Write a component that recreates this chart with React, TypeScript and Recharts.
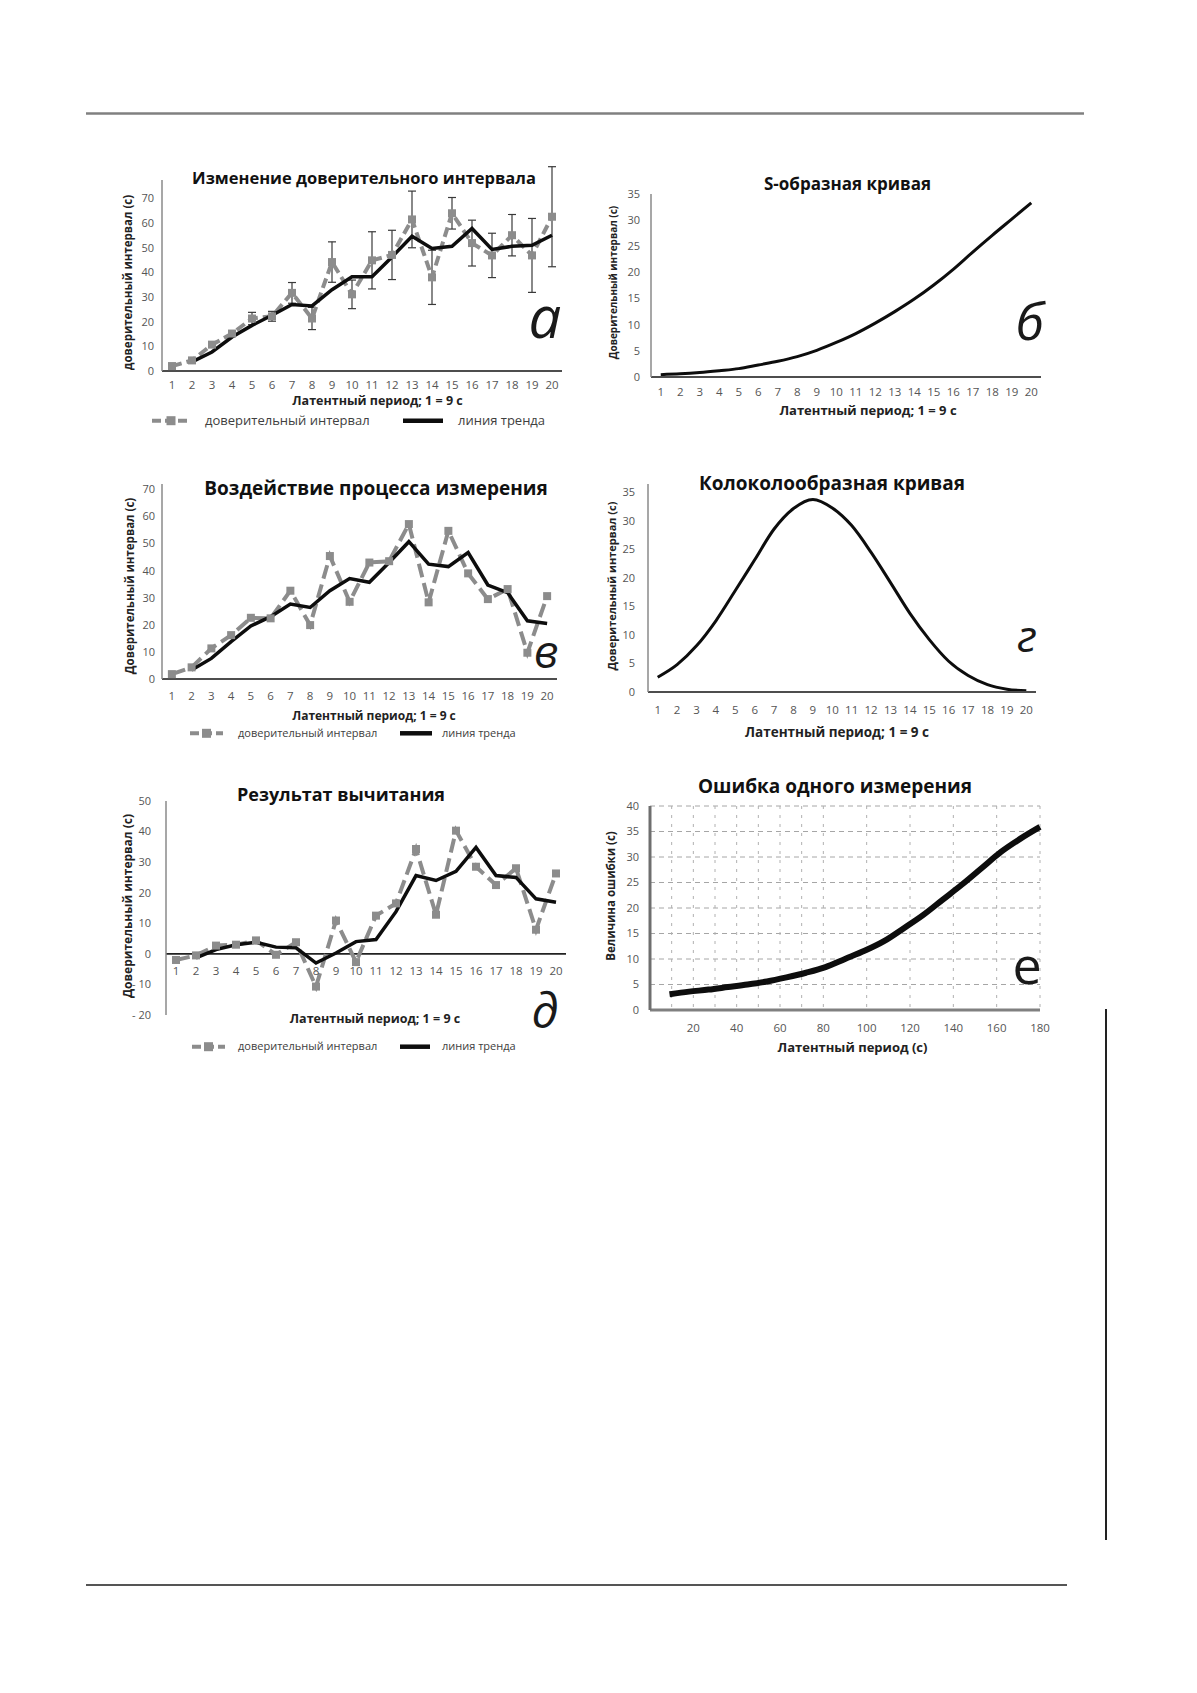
import React from "react";
import {
  LineChart, Line, XAxis, YAxis, CartesianGrid, ErrorBar, ReferenceLine, LabelList,
} from "recharts";

const FONT = '"Open Sans", "Noto Sans", sans-serif';
const GRAY = "#8c8c8c";
const BLACK = "#0d0d0d";

// periods on the category axis (1 = 9 s)
const periods = ["1", "2", "3", "4", "5", "6", "7", "8", "9", "10", "11", "12", "13", "14", "15", "16", "17", "18", "19", "20"];

// а – Изменение доверительного интервала
const ciA = [2, 4.3, 10.7, 15.2, 21.3, 22.2, 31.7, 21.3, 44.2, 31.1, 44.9, 47.1, 61.5, 38, 64, 51.9, 46.9, 55.1, 46.9, 62.6];
const errA = [0, 0, 0, 0, 2.5, 2, 4.2, 4.5, 8.2, 5.8, 11.6, 10, 11.5, 11, 6.4, 9.3, 9, 8.4, 15, 20.3];
const trendA = [null, 3.7, 7.7, 13.8, 18.5, 22.6, 27, 26.4, 33, 38.2, 38.2, 46.3, 54.7, 49.7, 50.6, 57.8, 49.3, 50.6, 51, 55.1];
const ticksA = [0, 10, 20, 30, 40, 50, 60, 70];

// б – S-образная кривая
const sCurve = [0.45, 0.6, 0.85, 1.2, 1.6, 2.3, 3.0, 3.9, 5.1, 6.6, 8.3, 10.3, 12.5, 14.9, 17.6, 20.6, 23.9, 27.1, 30.2, 33.3];
const ticksB = [0, 5, 10, 15, 20, 25, 30, 35];

// в – Воздействие процесса измерения
const ciV = [1.8, 4.3, 11.3, 16.2, 22.6, 22.4, 32.6, 19.9, 45.4, 28.5, 43, 43.5, 57.2, 28.3, 54.7, 39, 29.5, 33.2, 9.7, 30.6];
const trendV = [null, 3.3, 7.6, 13.8, 19.6, 23, 27.7, 26.4, 32.6, 37.1, 35.7, 43, 50.7, 42.4, 41.5, 46.7, 34.7, 31.9, 21.5, 20.5];

// г – Колоколообразная кривая
const bellCurve = [2.6, 4.8, 8.1, 12.5, 17.8, 23.2, 28.6, 32.2, 33.8, 32.3, 29.2, 24.5, 19.2, 13.8, 9.2, 5.4, 2.9, 1.3, 0.5, 0.2];

// д – Результат вычитания
const ciD = [-2, -0.5, 2.7, 3, 4.4, -0.3, 3.8, -10.7, 10.9, -2.7, 12.5, 16.5, 34.3, 12.8, 40.3, 28.5, 22.5, 28, 7.9, 26.3];
const trendD = [null, -1.3, 1.4, 3, 3.8, 2.2, 2, -3, 0.3, 4, 4.7, 13.8, 25.6, 24, 27, 34.8, 25.6, 25, 18, 16.9];
const ticksD = [-20, -10, 0, 10, 20, 30, 40, 50];

// е – Ошибка одного измерения
const latencySec = [9, 18, 27, 36, 45, 54, 63, 72, 81, 90, 99, 108, 117, 126, 135, 144, 153, 162, 171, 180];
const errorSize = [3.1, 3.6, 4.0, 4.5, 5.0, 5.6, 6.4, 7.3, 8.4, 10.0, 11.6, 13.5, 16.0, 18.6, 21.6, 24.6, 27.8, 31.0, 33.6, 35.9];
const ticksEx = [20, 40, 60, 80, 100, 120, 140, 160, 180];
const gridEx = [10, 20, 30, 40, 50, 60, 70, 80, 90, 100, 110, 120, 130, 140, 150, 160, 170, 180];
const ticksEy = [0, 5, 10, 15, 20, 25, 30, 35, 40];

const rowsA = periods.map((p, i) => ({ p, ci: ciA[i], err: errA[i], trend: trendA[i] }));
const rowsB = periods.map((p, i) => ({ p, v: sCurve[i] }));
const rowsV = periods.map((p, i) => ({ p, ci: ciV[i], trend: trendV[i] }));
const rowsG = periods.map((p, i) => ({ p, v: bellCurve[i] }));
const rowsD = periods.map((p, i) => ({ p, ci: ciD[i], trend: trendD[i] }));
const rowsE = latencySec.map((x, i) => ({ x, v: errorSize[i] }));

type Box = { left: number; top: number; w: number; h: number };
const Y_W = 50;
const X_H = 30;
const PAD = 20;

function place(b: Box) {
  return {
    style: { position: "absolute" as const, left: b.left - Y_W, top: b.top - PAD, fontFamily: FONT },
    width: Y_W + b.w + PAD,
    height: PAD + b.h + X_H,
    margin: { top: PAD, right: PAD, bottom: 0, left: 0 },
  };
}

const boxA: Box = { left: 162, top: 180, w: 400, h: 191 };
const boxB: Box = { left: 651, top: 194, w: 390, h: 183 };
const boxV: Box = { left: 162, top: 484, w: 395, h: 195 };
const boxG: Box = { left: 648, top: 484, w: 388, h: 208 };
const boxD: Box = { left: 166, top: 801, w: 400, h: 214 };
const boxE: Box = { left: 650, top: 806, w: 390, h: 204 };

const tickX = { fontSize: 11.5, fill: "#555" };
const tickY = { fontSize: 11, fill: "#555" };
const yLine = { stroke: "#8a8a8a", strokeWidth: 1.5 };
const xLine = { stroke: "#4d4d4d", strokeWidth: 2 };

const squareDot = (size: number) => (props: any) => {
  const { cx, cy, index } = props;
  if (cx == null || cy == null) return <g key={index} />;
  return <rect key={index} x={cx - size / 2} y={cy - size / 2} width={size} height={size} fill={GRAY} />;
};

function Panel({ box, data, children }: { box: Box; data: any[]; children: React.ReactNode }) {
  const pl = place(box);
  return (
    <div style={pl.style}>
      <LineChart width={pl.width} height={pl.height} data={data} margin={pl.margin}>
        {children}
      </LineChart>
    </div>
  );
}

function Legend({ y, x1, x2, t1, x3, x4, t2, size, dash }: any) {
  const mid = (x1 + x2) / 2;
  return (
    <g fontFamily={FONT} fontSize={size} fill="#404040">
      <line x1={x1} x2={x2} y1={y} y2={y} stroke={GRAY} strokeWidth={4} strokeDasharray={dash} />
      <rect x={mid - 4.5} y={y - 4.5} width={9} height={9} fill={GRAY} />
      <text x={t1} y={y + size * 0.3}>доверительный интервал</text>
      <line x1={x3} x2={x4} y1={y} y2={y} stroke={BLACK} strokeWidth={4.5} />
      <text x={t2} y={y + size * 0.3}>линия тренда</text>
    </g>
  );
}

function Overlay() {
  const title = { fontFamily: FONT, fontWeight: 700, fill: "#111", textAnchor: "middle" as const };
  const axisT = { fontFamily: FONT, fontWeight: 700, fill: "#222", textAnchor: "middle" as const };
  const letter = { fontFamily: FONT, fontStyle: "italic", fontWeight: 400, fill: "#1a1a1a", textAnchor: "middle" as const };
  const yLab = (x: number, y: number, s: number, t: string) => (
    <text {...axisT} fontSize={s} x={x} y={y} dominantBaseline="central" transform={`rotate(-90 ${x} ${y})`}>{t}</text>
  );
  return (
    <svg width={1197} height={1693} style={{ position: "absolute", left: 0, top: 0, pointerEvents: "none" }}>
      <line x1={86} x2={1084} y1={113.5} y2={113.5} stroke="#808080" strokeWidth={2.5} />
      <line x1={86} x2={1067} y1={1585} y2={1585} stroke="#555" strokeWidth={2} />
      <line x1={1106} x2={1106} y1={1009} y2={1540} stroke="#222" strokeWidth={2} />

      <text {...title} fontSize={16.5} x={364} y={183.5}>Изменение доверительного интервала</text>
      <text {...title} fontSize={17} x={847.5} y={190}>S-образная кривая</text>
      <text {...title} fontSize={19} x={376} y={495}>Воздействие процесса измерения</text>
      <text {...title} fontSize={19} x={832} y={490}>Колоколообразная кривая</text>
      <text {...title} fontSize={18} x={341} y={800.5}>Результат вычитания</text>
      <text {...title} fontSize={19} x={835} y={793}>Ошибка одного измерения</text>

      <text {...axisT} fontSize={12.5} x={377.5} y={405}>Латентный период; 1 = 9 с</text>
      <text {...axisT} fontSize={13} x={868} y={415}>Латентный период; 1 = 9 с</text>
      <text {...axisT} fontSize={12} x={374} y={720}>Латентный период; 1 = 9 с</text>
      <text {...axisT} fontSize={13.5} x={837} y={736.5}>Латентный период; 1 = 9 с</text>
      <text {...axisT} fontSize={12.5} x={375} y={1023}>Латентный период; 1 = 9 с</text>
      <text {...axisT} fontSize={13} x={852.5} y={1052}>Латентный период (с)</text>

      {yLab(127.5, 282.5, 11.5, "доверительный интервал (с)")}
      {yLab(612.5, 282.5, 10, "Доверительный интервал (с)")}
      {yLab(129, 586, 11.5, "Доверительный интервал (с)")}
      {yLab(611, 586, 11, "Доверительный интервал (с)")}
      {yLab(127.5, 906, 12, "Доверительный интервал (с)")}
      {yLab(610, 896, 11.5, "Величина ошибки (с)")}

      <Legend y={420.7} x1={152} x2={190} t1={205} x3={403} x4={443} t2={458} size={13} dash="9 4" />
      <Legend y={733.3} x1={190} x2={223} t1={238} x3={400} x4={432} t2={442} size={11} dash="9 4" />
      <Legend y={1046.7} x1={192} x2={225} t1={238} x3={400} x4={430} t2={442} size={11} dash="9 4" />

      <text {...letter} fontSize={58} x={545} y={338}>а</text>
      <text {...letter} fontSize={52} x={1030} y={340}>б</text>
      <text {...letter} fontSize={46} x={546} y={668}>в</text>
      <text {...letter} fontSize={44} x={1027} y={652}>г</text>
      <text {...letter} fontSize={48} x={545} y={1028}>д</text>
      <text {...letter} fontSize={52} fontStyle="normal" x={1027} y={984}>е</text>
    </svg>
  );
}

export default function App() {
  const half = (b: Box) => b.w / 40;
  return (
    <div style={{ position: "absolute", left: 0, top: 0, width: 1197, height: 1693, background: "#fff" }}>
      {/* а */}
      <Panel box={boxA} data={rowsA}>
        <XAxis dataKey="p" height={X_H} padding={{ left: half(boxA), right: half(boxA) }} tick={tickX}
          tickLine={false} tickMargin={4} axisLine={xLine} interval={0} />
        <YAxis width={Y_W} domain={[0, 77.5]} allowDataOverflow ticks={ticksA} tick={tickY} tickLine={false}
          axisLine={yLine} />
        <Line dataKey="ci" stroke={GRAY} strokeWidth={4} strokeDasharray="10 5" dot={squareDot(8)}
          activeDot={false} isAnimationActive={false}>
          <ErrorBar dataKey="err" width={4} strokeWidth={1.2} stroke="#3a3a3a" direction="y" />
        </Line>
        <Line dataKey="trend" stroke={BLACK} strokeWidth={3.5} dot={false} activeDot={false} isAnimationActive={false} />
      </Panel>

      {/* б */}
      <Panel box={boxB} data={rowsB}>
        <XAxis dataKey="p" height={X_H} padding={{ left: half(boxB), right: half(boxB) }} tick={tickX}
          tickLine={false} tickMargin={5} axisLine={xLine} interval={0} />
        <YAxis width={Y_W} domain={[0, 35]} ticks={ticksB} tick={tickY} tickLine={false} tickMargin={5} axisLine={yLine} />
        <Line type="monotone" dataKey="v" stroke={BLACK} strokeWidth={3} dot={false} activeDot={false} isAnimationActive={false} />
      </Panel>

      {/* в */}
      <Panel box={boxV} data={rowsV}>
        <XAxis dataKey="p" height={X_H} padding={{ left: half(boxV), right: half(boxV) }} tick={tickX}
          tickLine={false} tickMargin={7} axisLine={xLine} interval={0} />
        <YAxis width={Y_W} domain={[0, 72]} ticks={ticksA} tick={tickY} tickLine={false} tickMargin={1} axisLine={yLine} />
        <Line dataKey="ci" stroke={GRAY} strokeWidth={4} strokeDasharray="14 6" dot={squareDot(8)}
          activeDot={false} isAnimationActive={false} />
        <Line dataKey="trend" stroke={BLACK} strokeWidth={3.5} dot={false} activeDot={false} isAnimationActive={false} />
      </Panel>

      {/* г */}
      <Panel box={boxG} data={rowsG}>
        <XAxis dataKey="p" height={X_H} padding={{ left: half(boxG), right: half(boxG) }} tick={tickX}
          tickLine={false} tickMargin={8} axisLine={xLine} interval={0} />
        <YAxis width={Y_W} domain={[0, 36.5]} ticks={ticksB} tick={tickY} tickLine={false} tickMargin={7} axisLine={yLine} />
        <Line type="monotone" dataKey="v" stroke={BLACK} strokeWidth={3} dot={false} activeDot={false} isAnimationActive={false} />
      </Panel>

      {/* д */}
      <Panel box={boxD} data={rowsD}>
        <XAxis dataKey="p" height={X_H} padding={{ left: half(boxD), right: half(boxD) }} tick={false}
          tickLine={false} axisLine={false} />
        <YAxis width={Y_W} domain={[-20, 50]} ticks={ticksD} tick={tickY} tickLine={false} tickMargin={9}
          axisLine={yLine} tickFormatter={(v: number) => (v < 0 ? `- ${Math.abs(v)}` : `${v}`)} />
        <ReferenceLine y={0} stroke="#222" strokeWidth={1.8} />
        <Line dataKey={() => 0} stroke="none" dot={false} activeDot={false} legendType="none" isAnimationActive={false}>
          <LabelList dataKey="p" position="bottom" offset={13} fill="#555" fontSize={11.5} />
        </Line>
        <Line dataKey="ci" stroke={GRAY} strokeWidth={4} strokeDasharray="14 6" dot={squareDot(8)}
          activeDot={false} isAnimationActive={false} />
        <Line dataKey="trend" stroke={BLACK} strokeWidth={3.5} dot={false} activeDot={false} isAnimationActive={false} />
      </Panel>

      {/* е */}
      <Panel box={boxE} data={rowsE}>
        <CartesianGrid vertical={false} stroke="#a6a6a6" strokeDasharray="5 4" />
        <CartesianGrid horizontal={false} verticalValues={gridEx} stroke="#b0b0b0" strokeDasharray="3 6" />
        <XAxis dataKey="x" type="number" domain={[0, 180]} ticks={ticksEx} height={X_H} tick={tickX}
          tickLine={false} tickMargin={8} axisLine={{ stroke: "#808080", strokeWidth: 3 }} />
        <YAxis width={Y_W} domain={[0, 40]} ticks={ticksEy} tick={tickY} tickLine={false} tickMargin={5}
          axisLine={{ stroke: "#6e6e6e", strokeWidth: 3 }} />
        <Line type="monotone" dataKey="v" stroke={BLACK} strokeWidth={6} dot={false} activeDot={false} isAnimationActive={false} />
      </Panel>

      <Overlay />
    </div>
  );
}
